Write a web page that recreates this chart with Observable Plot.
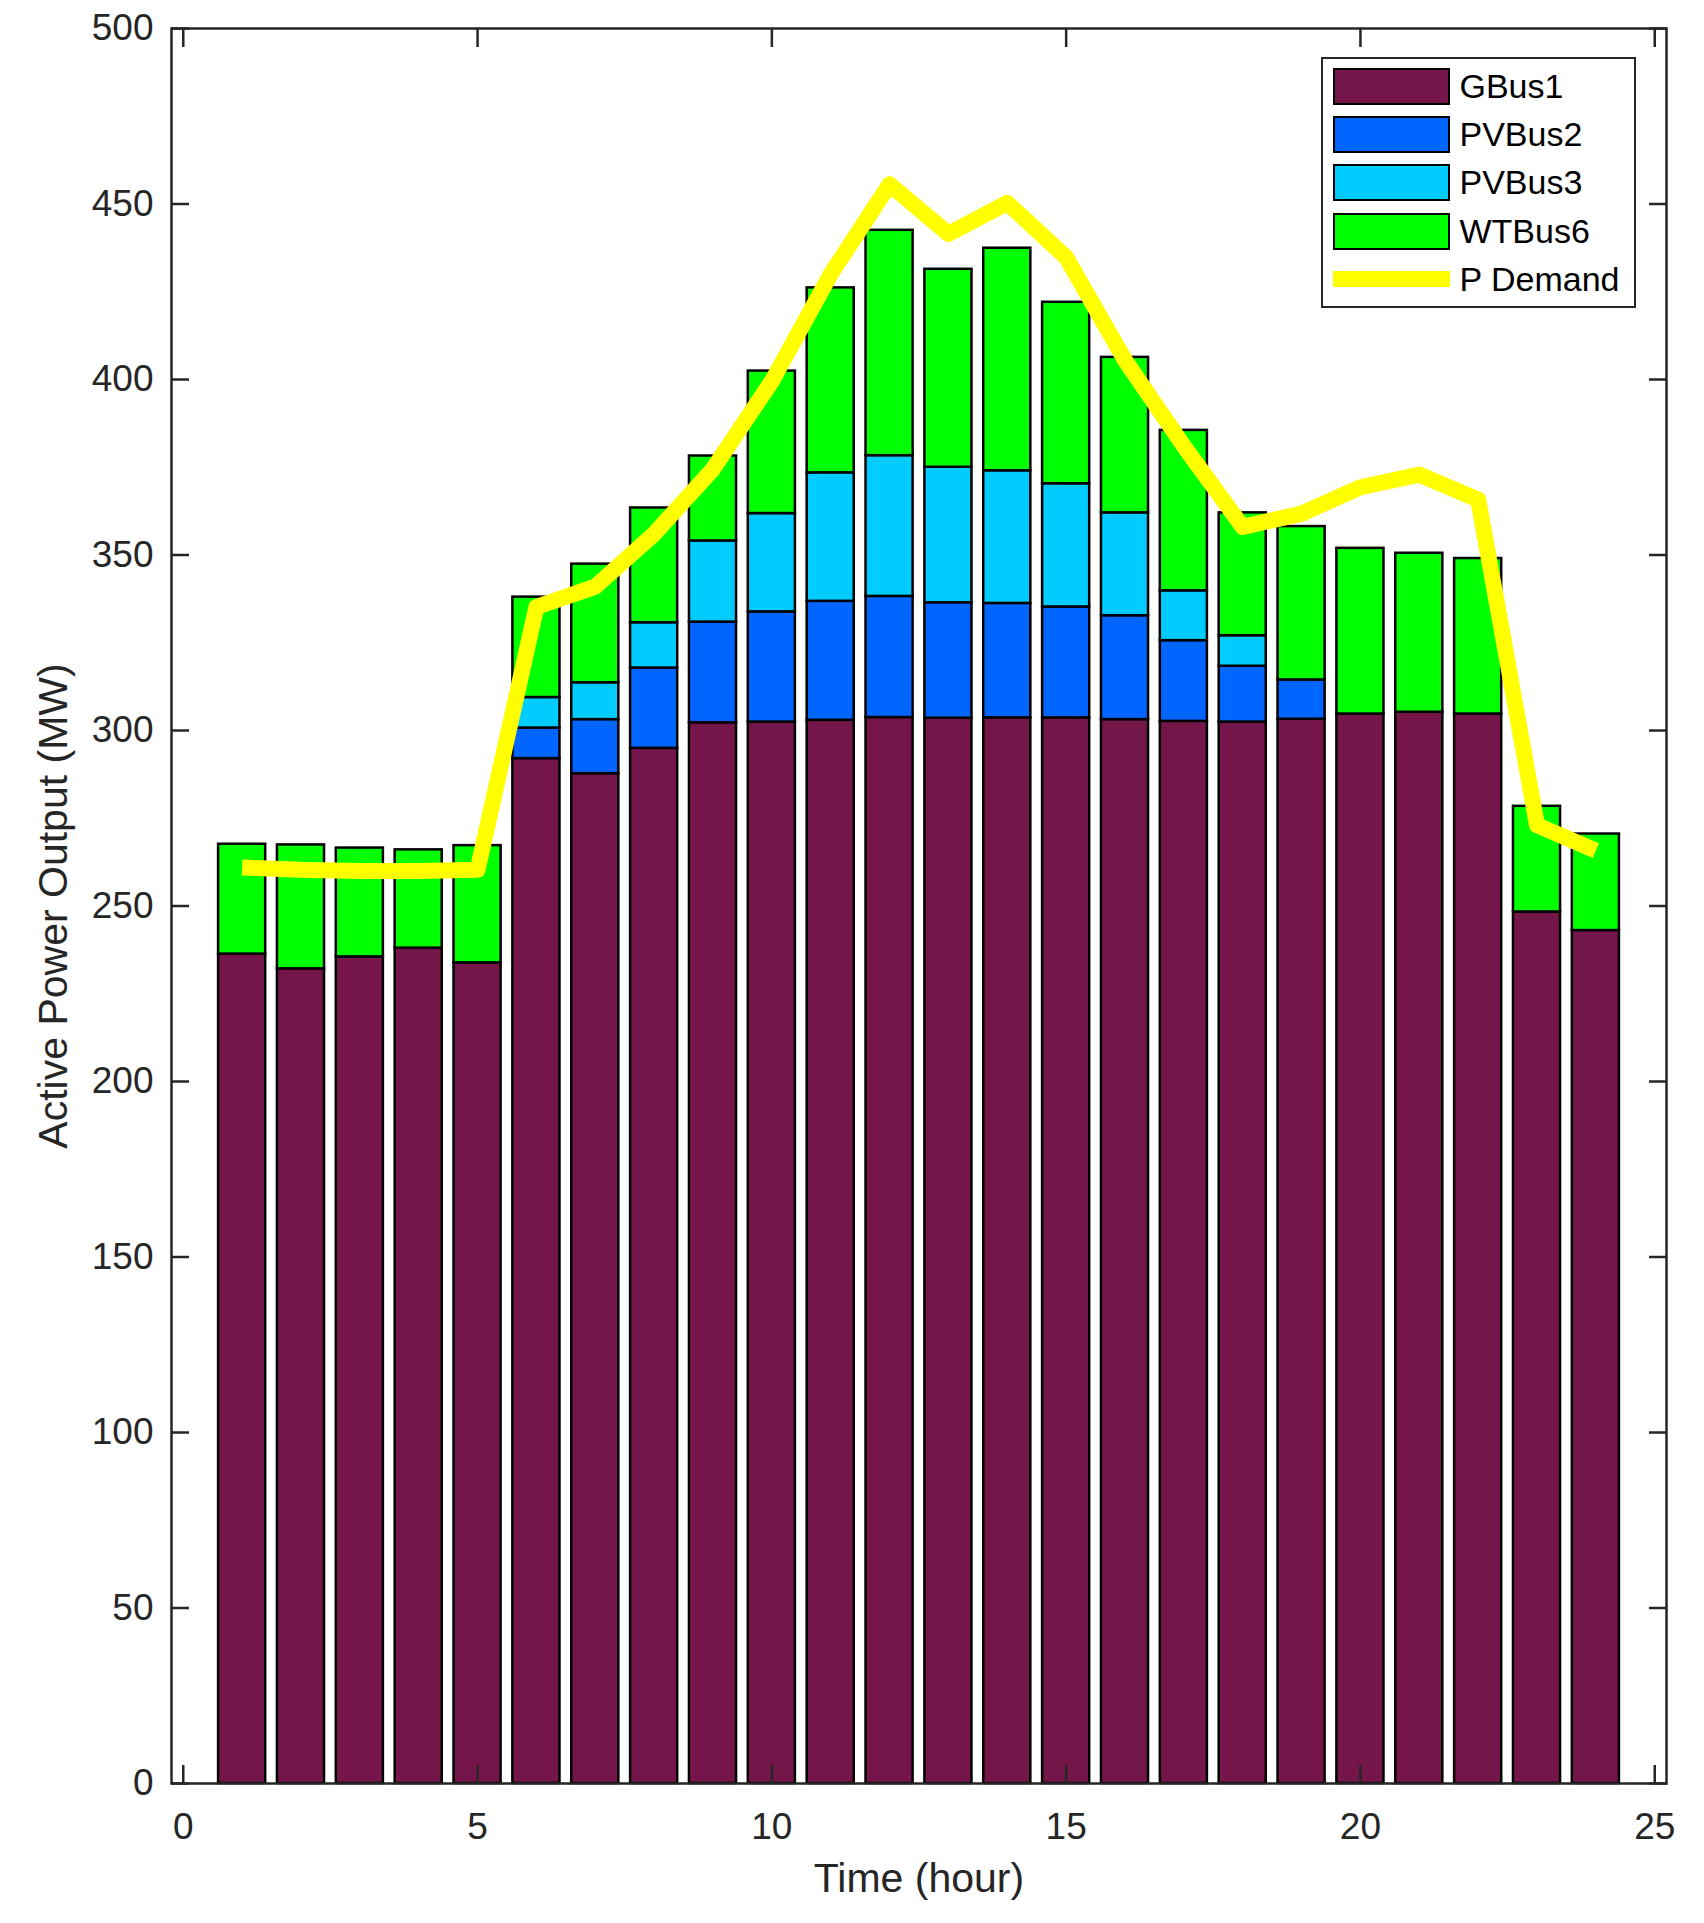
<!DOCTYPE html>
<html>
<head>
<meta charset="utf-8">
<script src="https://cdn.jsdelivr.net/npm/d3@7"></script>
<script src="https://cdn.jsdelivr.net/npm/@observablehq/plot@0.6"></script>
<style>
  body { margin: 0; background: #fff; }
  #vis { position: relative; width: 1704px; height: 1923px; font-family: "Liberation Sans", Arial, sans-serif; }
  .legend { position: absolute; left: 1321px; top: 57px; width: 315px; height: 251px; box-sizing: border-box;
            border: 2.5px solid #262626; background: #fff; padding: 3px 0 0 9.5px; }
  .legend .row { display: flex; align-items: center; height: 48.3px; }
  .legend .sw { width: 117px; height: 37px; box-sizing: border-box; border: 2.5px solid #000; }
  .legend .ln { width: 117px; height: 16px; background: #ffff00; }
  .legend span { margin-left: 10px; font-size: 34px; color: #000; }
</style>
</head>
<body>
<div id="vis"></div>
<script>
// hourly dispatch (MW)
const hours  = [1, 2, 3, 4, 5, 6, 7, 8, 9, 10, 11, 12, 13, 14, 15, 16, 17, 18, 19, 20, 21, 22, 23, 24]
const gbus1  = [236.3, 232.1, 235.5, 238.0, 233.8, 292.0, 287.7, 294.9, 302.2, 302.4, 302.9, 303.7,
                303.5, 303.6, 303.6, 303.1, 302.6, 302.4, 303.2, 304.7, 305.2, 304.7, 248.3, 243.0]
const pvbus2 = [0, 0, 0, 0, 0, 8.7, 15.4, 22.9, 28.7, 31.4, 33.9, 34.5,
                32.9, 32.6, 31.6, 29.6, 23.0, 15.9, 11.2, 0, 0, 0, 0, 0]
const pvbus3 = [0, 0, 0, 0, 0, 8.7, 10.5, 12.9, 23.1, 28.0, 36.6, 40.1,
                38.6, 37.8, 35.1, 29.3, 14.2, 8.7, 0, 0, 0, 0, 0, 0]
const wtbus6 = [31.3, 35.3, 31.0, 28.0, 33.4, 28.6, 33.8, 32.7, 24.2, 40.6, 52.7, 64.2,
                56.4, 63.4, 51.7, 44.3, 45.7, 35.0, 43.7, 47.2, 45.3, 44.3, 30.1, 27.5]
const demand = [261.0, 260.3, 260.0, 260.0, 260.3, 335.2, 341.0, 356.0, 374.5, 399.5, 430.0, 455.6,
                441.5, 450.3, 434.8, 405.5, 381.0, 358.0, 361.8, 369.3, 372.9, 365.8, 273.0, 265.8]

const sources = ['GBus1', 'PVBus2', 'PVBus3', 'WTBus6']
const colors  = ['#75164A', '#0066FF', '#00CCFF', '#00FF00']
const xTicks  = [0, 5, 10, 15, 20, 25]
const yTicks  = [0, 50, 100, 150, 200, 250, 300, 350, 400, 450, 500]

const barWidth = 0.8
const ink = '#262626'

// stacked table
const series = [gbus1, pvbus2, pvbus3, wtbus6]
const rows = []
hours.forEach((h, i) => {
  let base = 0
  series.forEach((s, k) => {
    if (s[i] > 0) rows.push({hour: h, source: sources[k], y1: base, y2: base + s[i]})
    base += s[i]
  })
})
const demandRows = hours.map((h, i) => ({hour: h, p: demand[i]}))

let chart = Plot.plot({
  width: 1704,
  height: 1923,
  marginLeft: 171,
  marginRight: 38,
  marginTop: 28,
  marginBottom: 140,
  x: {domain: [-0.2, 25.2]},
  y: {domain: [0, 500]},
  color: {domain: sources, range: colors},
  style: {fontFamily: '"Liberation Sans", Arial, sans-serif', background: '#fff'},
  marks: [
    Plot.rect(rows, {
      x1: d => d.hour - barWidth / 2,
      x2: d => d.hour + barWidth / 2,
      y1: 'y1',
      y2: 'y2',
      fill: 'source',
      stroke: '#000',
      strokeWidth: 2.5
    }),
    Plot.line(demandRows, {
      x: 'hour', y: 'p',
      stroke: '#FFFF00', strokeWidth: 16,
      strokeLinejoin: 'round', strokeLinecap: 'butt'
    }),
    Plot.frame({stroke: ink, strokeWidth: 2.5}),
    Plot.axisX(xTicks, {anchor: 'bottom', tickSize: -18, tickPadding: 47, fontSize: 37,
                        fill: ink, stroke: ink, strokeWidth: 2.5, label: null}),
    Plot.axisX(xTicks, {anchor: 'top', tickSize: -18, tickFormat: () => '',
                        stroke: ink, strokeWidth: 2.5, label: null}),
    Plot.axisY(yTicks, {anchor: 'left', tickSize: -18, tickPadding: 36, fontSize: 37,
                        fill: ink, stroke: ink, strokeWidth: 2.5, label: null}),
    Plot.axisY(yTicks, {anchor: 'right', tickSize: -18, tickFormat: () => '',
                        stroke: ink, strokeWidth: 2.5, label: null}),
    Plot.axisX([], {anchor: 'bottom', tickSize: 0, label: 'Time (hour)', labelAnchor: 'center',
                    labelArrow: 'none', labelOffset: 108, fontSize: 41, fill: ink}),
    Plot.axisY([], {anchor: 'left', tickSize: 0, label: 'Active Power Output (MW)', labelAnchor: 'center',
                    labelArrow: 'none', labelOffset: 134, fontSize: 41, fill: ink})
  ]
})

const vis = d3.select('#vis')
vis.append(() => chart)

// legend inside the axes, top right
const legend = vis.append('div').attr('class', 'legend')
sources.forEach((s, k) => {
  const row = legend.append('div').attr('class', 'row')
  row.append('div').attr('class', 'sw').style('background', colors[k])
  row.append('span').text(s)
})
const lrow = legend.append('div').attr('class', 'row')
lrow.append('div').attr('class', 'ln')
lrow.append('span').text('P Demand')
</script>
</body>
</html>
